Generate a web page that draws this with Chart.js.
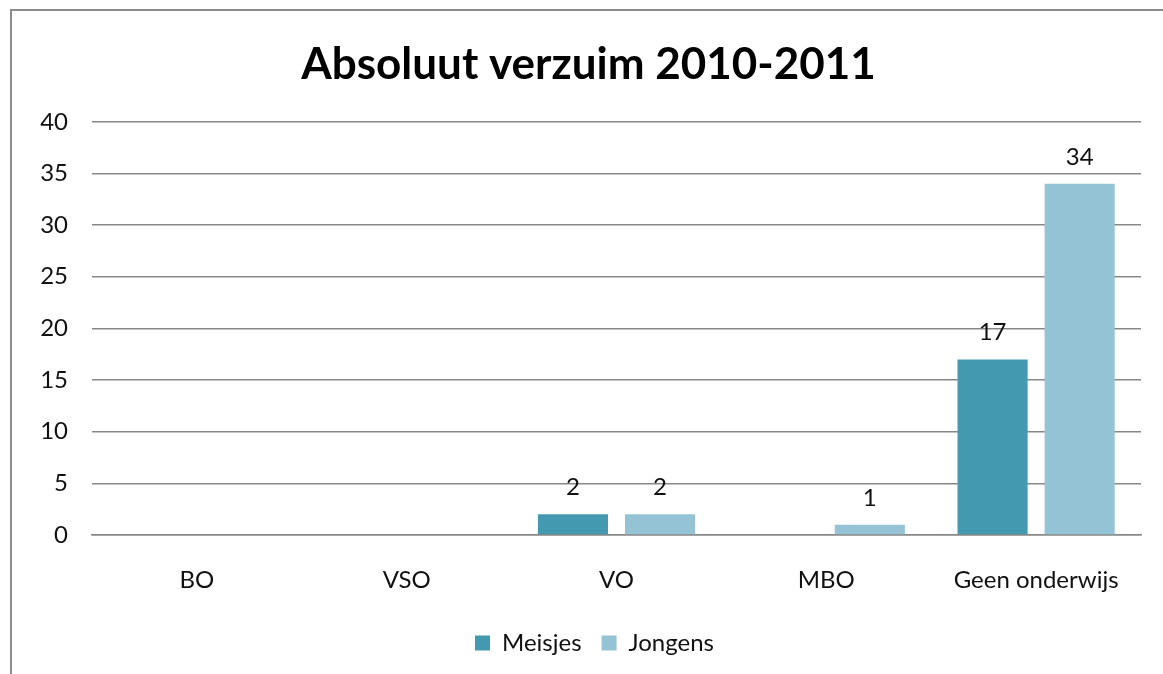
<!DOCTYPE html>
<html>
<head>
<meta charset="utf-8">
<script src="https://cdn.jsdelivr.net/npm/chart.js@4.4.0/dist/chart.umd.min.js"></script>
<style>
  html, body { margin: 0; padding: 0; background: #fff; }
  #frame { position: absolute; left: 10px; top: 9px; width: 1200px; height: 700px;
           border-left: 2px solid #8c8c8c; border-top: 2px solid #8c8c8c; }
  #wrap { position: absolute; left: 0; top: 0; width: 1163px; height: 674px; }
</style>
</head>
<body>
<div id="frame"></div>
<div id="wrap"><canvas id="verzuimChart" width="1163" height="674"></canvas></div>
<script>
// Absoluut verzuim per onderwijstype
const categories = ['BO', 'VSO', 'VO', 'MBO', 'Geen onderwijs'];
const meisjes = [0, 0, 2, 0, 17];
const jongens = [0, 0, 2, 1, 34];
const yTicks = [0, 5, 10, 15, 20, 25, 30, 35, 40];

const FONT = 'Lato, "Open Sans", sans-serif';

// draws the value above every non-zero bar
const valueLabels = {
    id: 'valueLabels',
    afterDatasetsDraw(chart) {
        const ctx = chart.ctx;
        ctx.save();
        ctx.font = '24px ' + FONT;
        ctx.fillStyle = '#111';
        ctx.textAlign = 'center';
        ctx.textBaseline = 'alphabetic';
        chart.data.datasets.forEach((ds, i) => {
            chart.getDatasetMeta(i).data.forEach((bar, j) => {
                if (ds.data[j] > 0) ctx.fillText(ds.data[j], bar.x, bar.y - 19);
            });
        });
        ctx.restore();
    }
};

// title and legend sit a bit right of the canvas centre, like the original
const nudgeBlocks = {
    id: 'nudgeBlocks',
    afterLayout(chart) {
        chart.titleBlock.left += 18;
        chart.titleBlock.right += 18;
        chart.legend.left += 24;
        chart.legend.right += 24;
    }
};

const ctx = document.getElementById('verzuimChart').getContext('2d');
new Chart(ctx, {
    type: 'bar',
    data: {
        labels: categories,
        datasets: [{
            label: 'Meisjes',
            data: meisjes,
            backgroundColor: '#4299b0',
            categoryPercentage: 0.83,
            barPercentage: 0.805
        }, {
            label: 'Jongens',
            data: jongens,
            backgroundColor: '#93c3d4',
            categoryPercentage: 0.83,
            barPercentage: 0.805
        }]
    },
    options: {
        responsive: false,
        animation: false,
        layout: { padding: { left: 0, right: 22, top: 0, bottom: 9 } },
        plugins: {
            title: {
                display: true,
                text: 'Absoluut verzuim 2010-2011',
                color: '#000',
                font: { family: FONT, size: 44, weight: 'bold' },
                padding: { top: 38, bottom: 31 }
            },
            legend: {
                position: 'bottom',
                labels: {
                    color: '#111',
                    font: { family: FONT, size: 24 },
                    boxWidth: 15,
                    boxHeight: 15,
                    padding: 20
                }
            },
            tooltip: { enabled: false }
        },
        scales: {
            y: {
                min: 0,
                max: 40,
                afterBuildTicks: (axis) => { axis.ticks = yTicks.map(v => ({ value: v })); },
                afterFit: (axis) => { axis.width = 92; },
                ticks: { color: '#111', font: { family: FONT, size: 24 }, padding: 24 },
                grid: { color: '#878787', lineWidth: 1.5, drawTicks: false },
                border: { display: false }
            },
            x: {
                afterFit: (axis) => { axis.height = 76; },
                ticks: { color: '#111', font: { family: FONT, size: 24 }, padding: 23 },
                grid: { display: false },
                border: { color: '#878787', width: 1.5 }
            }
        }
    },
    plugins: [valueLabels, nudgeBlocks]
});
</script>
</body>
</html>
